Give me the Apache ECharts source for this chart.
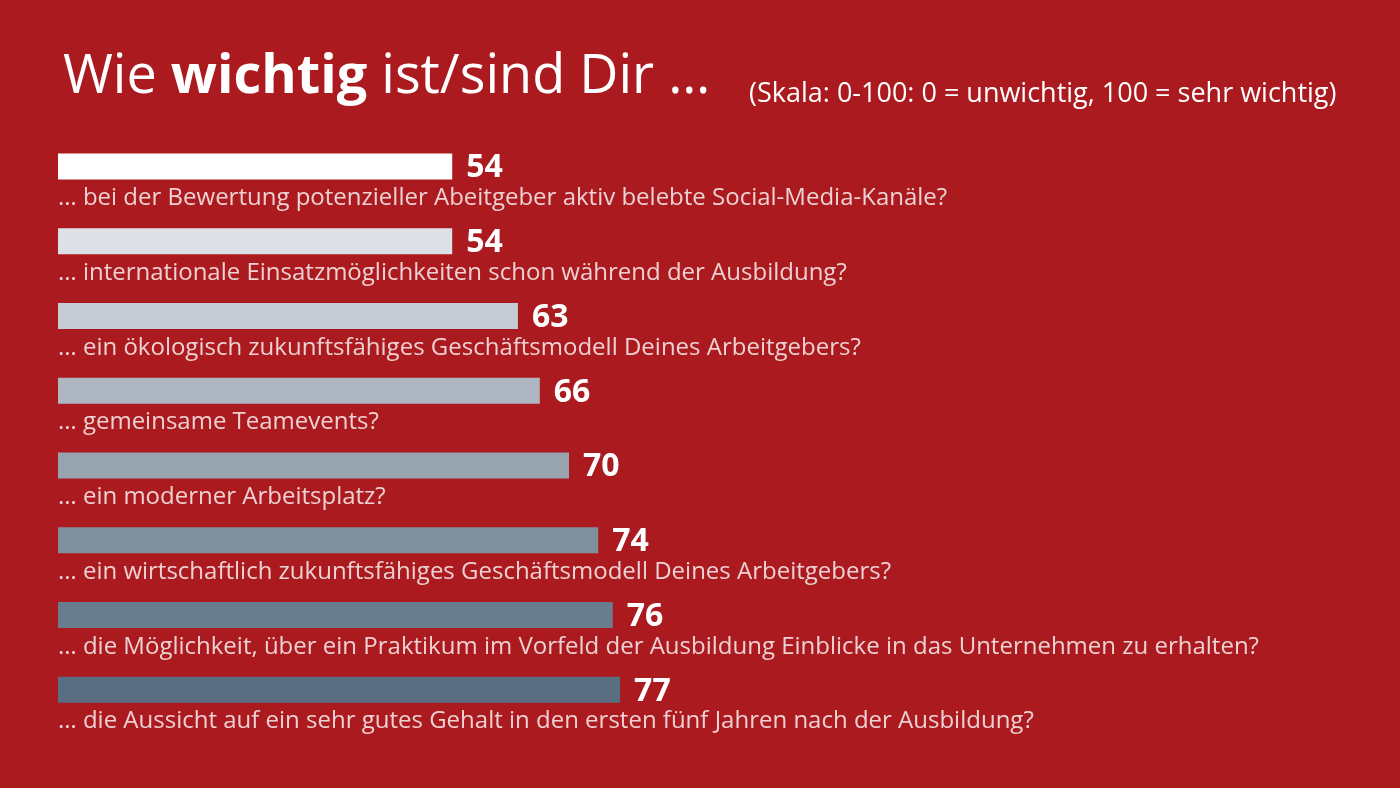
<!DOCTYPE html>
<html>
<head>
<meta charset="utf-8">
<script src="https://cdn.jsdelivr.net/npm/echarts@6/dist/echarts.min.js"></script>
<style>
  html, body { margin: 0; padding: 0; background: #ab1a1f; }
  #chart { width: 1400px; height: 788px; }
</style>
</head>
<body>
<div id="chart"></div>
<script>
const questions = [
  '… bei der Bewertung potenzieller Abeitgeber aktiv belebte Social-Media-Kanäle?',
  '… internationale Einsatzmöglichkeiten schon während der Ausbildung?',
  '… ein ökologisch zukunftsfähiges Geschäftsmodell Deines Arbeitgebers?',
  '… gemeinsame Teamevents?',
  '… ein moderner Arbeitsplatz?',
  '… ein wirtschaftlich zukunftsfähiges Geschäftsmodell Deines Arbeitgebers?',
  '… die Möglichkeit, über ein Praktikum im Vorfeld der Ausbildung Einblicke in das Unternehmen zu erhalten?',
  '… die Aussicht auf ein sehr gutes Gehalt in den ersten fünf Jahren nach der Ausbildung?'
];
const scores = [54, 54, 63, 66, 70, 74, 76, 77];
const barColors = ['#ffffff', '#dde1e7', '#c6ccd4', '#aeb6c1', '#97a4b0', '#80909e', '#6a7d8f', '#5a6e81'];

const chart = echarts.init(document.getElementById('chart'));
chart.setOption({
  backgroundColor: '#ab1a1f',
  textStyle: { fontFamily: 'Open Sans' },
  title: {
    text: 'Wie {b|wichtig} ist/sind Dir …',
    left: 58, top: 46,
    textStyle: {
      color: '#fff', fontSize: 54, fontWeight: 'normal', fontFamily: 'Open Sans',
      rich: { b: { color: '#fff', fontSize: 54, fontWeight: 'bold', fontFamily: 'Open Sans' } }
    },
    subtext: '(Skala: 0-100: 0 = unwichtig, 100 = sehr wichtig)',
    subtextStyle: { color: '#fff', fontSize: 27, fontFamily: 'Open Sans' }
  },
  grid: { left: 58, top: 129, width: 730, height: 598 },
  xAxis: { type: 'value', min: 0, max: 100, show: false },
  yAxis: { type: 'category', data: questions, inverse: true, show: false },
  series: [
    {
      type: 'bar',
      barWidth: 26,
      data: scores.map((v, i) => ({ value: v, itemStyle: { color: barColors[i] } })),
      label: {
        show: true, position: 'right', distance: 14, offset: [0, 2],
        color: '#fff', fontSize: 32, fontWeight: 'bold', fontFamily: 'Open Sans'
      },
      silent: true
    },
    {
      type: 'scatter',
      symbolSize: 0,
      data: questions.map(q => [0, q]),
      label: {
        show: true, position: 'right', distance: 0, offset: [0, 32],
        formatter: p => p.value[1],
        color: '#fff', fontSize: 24, fontFamily: 'Open Sans'
      },
      silent: true
    }
  ]
});
// place subtitle to the right of the title
chart.setOption({ title: [{ subtext: '' }, {
  text: '(Skala: 0-100: 0 = unwichtig, 100 = sehr wichtig)',
  left: 744, top: 76,
  textStyle: { color: '#fff', fontSize: 27, fontWeight: 'normal', fontFamily: 'Open Sans' }
}] });
</script>
</body>
</html>
